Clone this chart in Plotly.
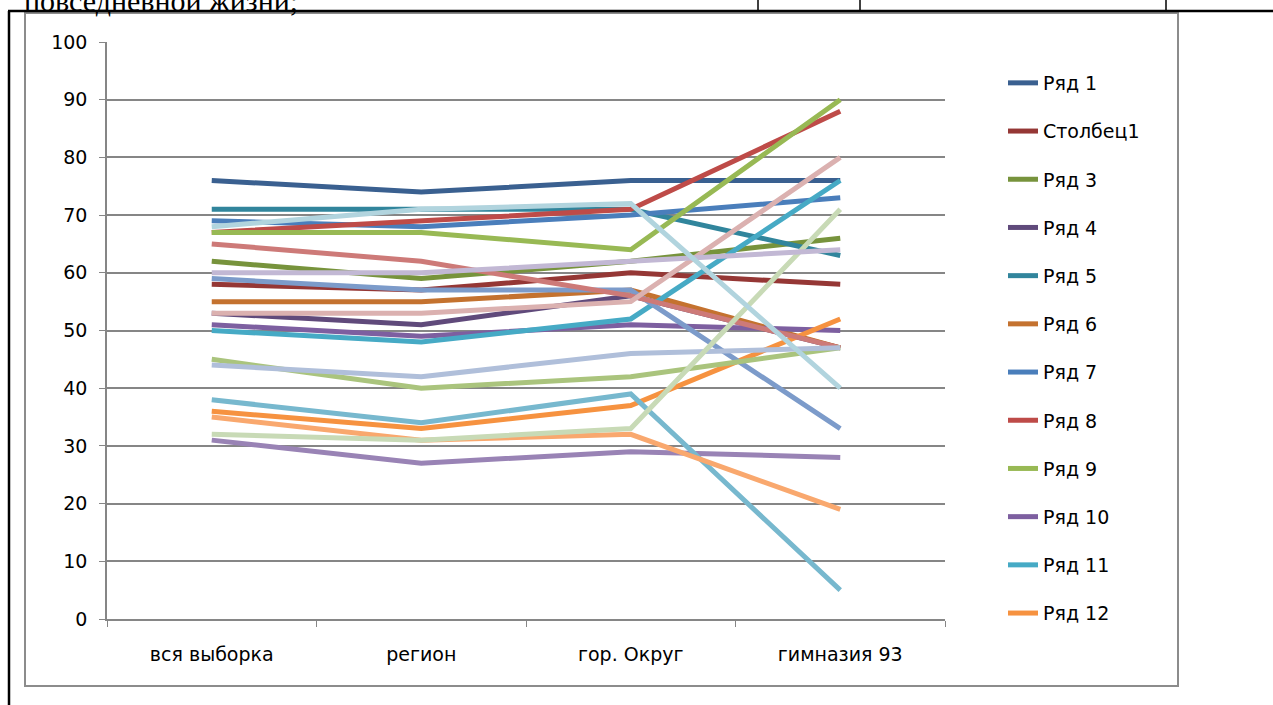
import plotly.graph_objects as go

W, H = 1273, 705

categories = ["вся выборка", "регион", "гор. Округ", "гимназия 93"]

names = ["Ряд 1", "Столбец1", "Ряд 3", "Ряд 4", "Ряд 5", "Ряд 6", "Ряд 7", "Ряд 8",
         "Ряд 9", "Ряд 10", "Ряд 11", "Ряд 12", "Ряд 13", "Ряд 14", "Ряд 15", "Ряд 16",
         "Ряд 17", "Ряд 18", "Ряд 19", "Ряд 20", "Ряд 21", "Ряд 22", "Ряд 23"]

s1 = [76, 74, 76, 76]
s2 = [58, 57, 60, 58]
s3 = [62, 59, 62, 66]
s4 = [53, 51, 56, 47]
s5 = [71, 71, 71, 63]
s6 = [55, 55, 57, 47]
s7 = [69, 68, 70, 73]
s8 = [67, 69, 71, 88]
s9 = [67, 67, 64, 90]
s10 = [51, 49, 51, 50]
s11 = [50, 48, 52, 76]
s12 = [36, 33, 37, 52]
s13 = [59, 57, 57, 33]
s14 = [65, 62, 56, 47]
s15 = [45, 40, 42, 47]
s16 = [31, 27, 29, 28]
s17 = [38, 34, 39, 5]
s18 = [35, 31, 32, 19]
s19 = [44, 42, 46, 47]
s20 = [53, 53, 55, 80]
s21 = [32, 31, 33, 71]
s22 = [60, 60, 62, 64]
s23 = [68, 71, 72, 40]

series = [s1, s2, s3, s4, s5, s6, s7, s8, s9, s10, s11, s12,
          s13, s14, s15, s16, s17, s18, s19, s20, s21, s22, s23]

colors = ["#3A6090", "#953735", "#77933C", "#604A7B", "#31859C", "#C4722F",
          "#4A7EBB", "#BE4B48", "#98B954", "#7D5FA0", "#46AAC5", "#F69240",
          "#7C9BCA", "#CD7A78", "#AAC47D", "#9983B5", "#77B8CE", "#F9A86E",
          "#B0BFDA", "#DBB1B0", "#C8DAB6", "#C2B8D4", "#B1D4DE"]

yticks = [0, 10, 20, 30, 40, 50, 60, 70, 80, 90, 100]

FONT = "DejaVu Sans"
FS = 19

# plot area in pixels
PL, PR, PT, PB = 107, 945, 42, 619


def X(p):
    return (p - PL) / (PR - PL)


def Y(p):
    return (PB - p) / (PB - PT)


fig = go.Figure()
for i, (nm, vals, col) in enumerate(zip(names, series, colors)):
    fig.add_trace(go.Scatter(
        x=categories, y=vals, name=nm, mode="lines",
        line=dict(color=col, width=5),
        showlegend=i < 12, legendgroup="g%d" % i,
    ))

fig.update_layout(
    width=W, height=H,
    margin=dict(l=PL, r=W - PR, t=PT, b=H - PB, pad=0),
    paper_bgcolor="white", plot_bgcolor="white",
    font=dict(family=FONT, size=FS, color="#000000"),
    xaxis=dict(
        type="category", range=[-0.5, 3.5], automargin=False,
        tickson="boundaries", ticks="outside", ticklen=6, tickcolor="#868686",
        showline=True, linecolor="#868686", linewidth=1.5,
        showgrid=False, zeroline=False, fixedrange=True,
        tickfont=dict(family=FONT, size=FS), ticklabelstandoff=17,
    ),
    yaxis=dict(
        range=[0, 100], tickvals=yticks, ticktext=[str(v) for v in yticks],
        automargin=False,
        ticks="outside", ticklen=6, tickcolor="#868686",
        showline=True, linecolor="#868686", linewidth=1.5,
        showgrid=True, gridcolor="#868686", gridwidth=1.5,
        zeroline=False, fixedrange=True,
        tickfont=dict(family=FONT, size=FS), ticklabelstandoff=8,
    ),
    legend=dict(
        x=X(1003), y=Y(64), xanchor="left", yanchor="top",
        font=dict(family=FONT, size=FS), tracegroupgap=20.5,
        maxheight=690,
        bgcolor="rgba(0,0,0,0)", itemclick=False, itemdoubleclick=False,
    ),
    showlegend=True,
)

shapes = []
# chart outer frame
shapes.append(dict(type="rect", xref="paper", yref="paper",
                   x0=X(25), x1=X(1178), y0=Y(686), y1=Y(13),
                   line=dict(color="#8c8c8c", width=2), layer="below"))
# document table lines
shapes.append(dict(type="line", xref="paper", yref="paper",
                   x0=X(8), x1=X(W + 5), y0=Y(11), y1=Y(11),
                   line=dict(color="black", width=2.5)))
shapes.append(dict(type="line", xref="paper", yref="paper",
                   x0=X(9), x1=X(9), y0=Y(11), y1=Y(H + 5),
                   line=dict(color="black", width=2.5)))
for xv in [758, 860, 1166]:
    shapes.append(dict(type="line", xref="paper", yref="paper",
                       x0=X(xv), x1=X(xv), y0=Y(-5), y1=Y(11),
                       line=dict(color="black", width=1.5)))
fig.update_layout(shapes=shapes)

fig.add_annotation(text="повседневной жизни;", xref="paper", yref="paper",
                   x=X(22), y=Y(19), xanchor="left", yanchor="bottom",
                   showarrow=False,
                   font=dict(family="Liberation Serif", size=30, color="black"))

fig.write_html("out.html", config={"displayModeBar": False},
               post_script="document.body.style.margin='0';document.body.style.overflow='hidden';")
